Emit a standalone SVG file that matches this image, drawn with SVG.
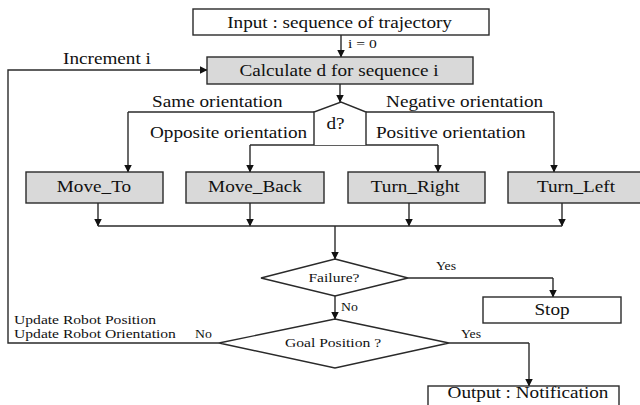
<svg xmlns="http://www.w3.org/2000/svg" width="640" height="405" viewBox="0 0 640 405">
<defs>
<marker id="ah" markerWidth="8" markerHeight="8" refX="7.5" refY="4" orient="auto" markerUnits="userSpaceOnUse">
<path d="M0,0 L8,4 L0,8 Z" fill="#111"/>
</marker>
</defs>
<rect width="640" height="405" fill="#fff"/>
<g id="connectors" fill="none" stroke="#2a2a2a" stroke-width="1.4">
<path marker-end="url(#ah)" d="M341,35 L341,57"/>
<path marker-end="url(#ah)" d="M340,84 L340,102"/>
<path d="M314,112 L128,112"/>
<path marker-end="url(#ah)" d="M128,112 L128,172"/>
<path d="M366,112 L554,112"/>
<path marker-end="url(#ah)" d="M554,112 L554,172"/>
<path d="M250,145 L438,145"/>
<path marker-end="url(#ah)" d="M250,145 L250,172"/>
<path marker-end="url(#ah)" d="M438,145 L438,172"/>
<path marker-end="url(#ah)" d="M98,203 L98,226"/>
<path marker-end="url(#ah)" d="M250,203 L250,226"/>
<path marker-end="url(#ah)" d="M409,203 L409,226"/>
<path marker-end="url(#ah)" d="M562,203 L562,226"/>
<path d="M98,226 L562,226"/>
<path marker-end="url(#ah)" d="M335,226 L335,259"/>
<path marker-end="url(#ah)" d="M335,296 L335,319"/>
<path d="M408,278 L553,278"/>
<path marker-end="url(#ah)" d="M553,278 L553,297"/>
<path d="M449,343 L529,343"/>
<path marker-end="url(#ah)" d="M529,343 L529,386"/>
<path marker-end="url(#ah)" d="M219,343 L8,343 L8,70 L207,70"/>
</g>
<g id="labels" transform="scale(1.2,1)" fill="#111">
<text font-family="Liberation Serif" font-size="13" x="290" y="48">i = 0</text>
<text font-family="Liberation Serif" font-size="16" x="52.5" y="64">Increment i</text>
<text font-family="Liberation Serif" font-size="16" x="126.7" y="107">Same orientation</text>
<text font-family="Liberation Serif" font-size="16" x="321.7" y="107">Negative orientation</text>
<text font-family="Liberation Serif" font-size="16" x="125" y="138">Opposite orientation</text>
<text font-family="Liberation Serif" font-size="16" x="313.3" y="138">Positive orientation</text>
<text font-family="Liberation Serif" font-size="11.5" x="363.3" y="270">Yes</text>
<text font-family="Liberation Serif" font-size="11.5" x="284.2" y="311">No</text>
<text font-family="Liberation Serif" font-size="11.5" x="384.2" y="338">Yes</text>
<text font-family="Liberation Serif" font-size="11.5" x="162.5" y="338">No</text>
<text font-family="Liberation Serif" font-size="13" x="11.7" y="324">Update Robot Position</text>
<text font-family="Liberation Serif" font-size="13" x="11.7" y="338">Update Robot Orientation</text>
</g>
<g id="input"><rect fill="#fff" stroke="#2a2a2a" stroke-width="1.4" x="193" y="9" width="296" height="26"/><text fill="#111" text-anchor="middle" font-family="Liberation Serif" font-size="16" transform="scale(1.2,1)" x="283" y="28">Input : sequence of trajectory</text></g>
<g id="calc"><rect fill="#d9d9d9" stroke="#2a2a2a" stroke-width="1.4" x="207" y="57" width="266" height="27"/><text fill="#111" text-anchor="middle" font-family="Liberation Serif" font-size="16" transform="scale(1.2,1)" x="282.5" y="76">Calculate d for sequence i</text></g>
<g id="d"><path fill="#fff" stroke="#2a2a2a" stroke-width="1.4" d="M314,145 L314,112 L341,102 L366,112 L366,145"/><text fill="#111" text-anchor="middle" font-family="Liberation Serif" font-size="16" transform="scale(1.2,1)" x="279.6" y="129">d?</text></g>
<g id="moveto"><rect fill="#d9d9d9" stroke="#2a2a2a" stroke-width="1.4" x="26" y="172" width="137" height="31"/><text fill="#111" text-anchor="middle" font-family="Liberation Serif" font-size="16" transform="scale(1.2,1)" x="78.3" y="192">Move_To</text></g>
<g id="moveback"><rect fill="#d9d9d9" stroke="#2a2a2a" stroke-width="1.4" x="186" y="172" width="138" height="31"/><text fill="#111" text-anchor="middle" font-family="Liberation Serif" font-size="16" transform="scale(1.2,1)" x="212.5" y="192">Move_Back</text></g>
<g id="turnright"><rect fill="#d9d9d9" stroke="#2a2a2a" stroke-width="1.4" x="348" y="172" width="137" height="31"/><text fill="#111" text-anchor="middle" font-family="Liberation Serif" font-size="16" transform="scale(1.2,1)" x="346" y="192">Turn_Right</text></g>
<g id="turnleft"><rect fill="#d9d9d9" stroke="#2a2a2a" stroke-width="1.4" x="508" y="172" width="136" height="31"/><text fill="#111" text-anchor="middle" font-family="Liberation Serif" font-size="16" transform="scale(1.2,1)" x="480" y="192">Turn_Left</text></g>
<g id="failure"><path fill="#fff" stroke="#2a2a2a" stroke-width="1.4" d="M335,259 L408,278 L335,296 L261,278 Z"/><text fill="#111" text-anchor="middle" font-family="Liberation Serif" font-size="13" transform="scale(1.2,1)" x="278.3" y="282">Failure?</text></g>
<g id="stop"><rect fill="#fff" stroke="#2a2a2a" stroke-width="1.4" x="483" y="297" width="138" height="26"/><text fill="#111" text-anchor="middle" font-family="Liberation Serif" font-size="16" transform="scale(1.2,1)" x="460" y="315">Stop</text></g>
<g id="goal"><path fill="#fff" stroke="#2a2a2a" stroke-width="1.4" d="M335,319 L449,343 L335,368 L219,343 Z"/><text fill="#111" text-anchor="middle" font-family="Liberation Serif" font-size="13" transform="scale(1.2,1)" x="277.5" y="347">Goal Position ?</text></g>
<g id="output"><rect fill="#fff" stroke="#2a2a2a" stroke-width="1.4" x="428" y="386" width="191" height="26"/><text fill="#111" text-anchor="middle" font-family="Liberation Serif" font-size="16" transform="scale(1.2,1)" x="440" y="398">Output : Notification</text></g>
</svg>
